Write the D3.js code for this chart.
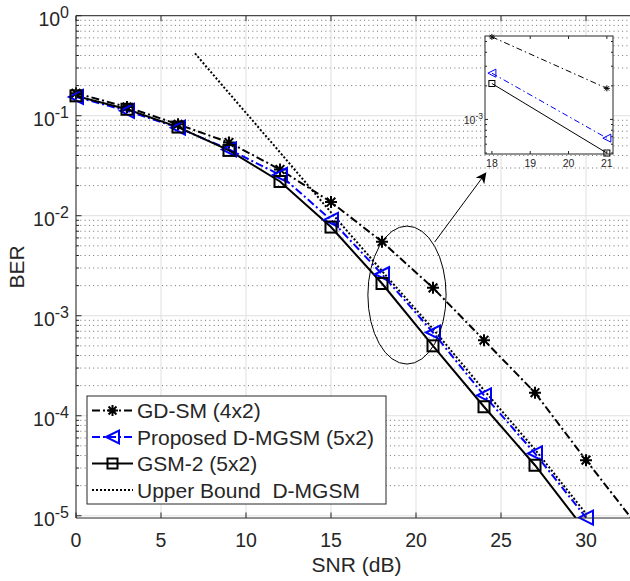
<!DOCTYPE html>
<html>
<head>
<meta charset="utf-8">
<script src="https://cdn.jsdelivr.net/npm/d3@7"></script>
<style>
  body { margin: 0; background: #fff; }
  text { font-family: Arial, "Liberation Sans", sans-serif; fill: #262626; }
</style>
</head>
<body>
<svg id="chart" width="630" height="581"></svg>
<script>
// data
const snr = [0, 3, 6, 9, 12, 15, 18, 21, 24, 27, 30];
const snrGdsm = [0, 3, 6, 9, 12, 15, 18, 21, 24, 27, 30, 33];
const berGdsm = [0.168, 0.122, 0.082, 0.054, 0.029, 0.0137, 0.0055, 0.0019, 0.00057, 0.00017, 0.000036, 0.000008];
const berProposed = [0.154, 0.112, 0.076, 0.046, 0.0256, 0.0091, 0.0026, 0.00068, 0.00016, 0.000042, 0.0000096];
const berGsm2 = [0.158, 0.116, 0.077, 0.045, 0.022, 0.0077, 0.0021, 0.0005, 0.000123, 0.000032, 0.000007];
const snrBound = [7, 9, 12, 15, 18, 21, 24, 27, 30];
const berBound = [0.42, 0.168, 0.043, 0.0108, 0.0028, 0.00074, 0.00018, 0.000046, 0.0000105];

const xTicks = [0, 5, 10, 15, 20, 25, 30];
const yExps = [-5, -4, -3, -2, -1, 0];
const insetXTicks = [18, 19, 20, 21];
const legendLabels = ["GD-SM (4x2)", "Proposed D-MGSM (5x2)", "GSM-2 (5x2)", "Upper Bound  D-MGSM"];

// ellipse / arrow annotation in data units
const ellipseC = [19.47, 0.00161];
const arrowFrom = [21.1, 0.00546];
const arrowTo = [24.1, 0.0267];

const svg = d3.select("#chart");
const pL = 76, pR = 637, pT = 15.7, pB = 518;
const x = d3.scaleLinear().domain([0, 33]).range([pL, pR]);
const y = d3.scaleLog().domain([9.5e-6, 1]).range([pB, pT]);

const series = [
  { xs: snrGdsm, ys: berGdsm, color: "#000", dash: "8,3,2,3", marker: "star", width: 2 },
  { xs: snr, ys: berProposed, color: "#0000ff", dash: "8,3,2,3", marker: "tri", width: 2 },
  { xs: snr, ys: berGsm2, color: "#000", dash: null, marker: "sq", width: 2 },
  { xs: snrBound, ys: berBound, color: "#000", dash: "2,2", marker: null, width: 2 }
];

function drawMarker(g, type, cx, cy, s, color, sw) {
  if (type == "star") {
    const h = s / 2, d = h * 0.72;
    const p = `M${cx - h},${cy}L${cx + h},${cy}M${cx},${cy - h}L${cx},${cy + h}` +
      `M${cx - d},${cy - d}L${cx + d},${cy + d}M${cx - d},${cy + d}L${cx + d},${cy - d}`;
    g.append("path").attr("d", p).attr("stroke", color).attr("stroke-width", sw).attr("fill", "none");
  } else if (type == "tri") {
    const h = s / 2;
    g.append("path").attr("d", `M${cx - h},${cy}L${cx + h},${cy - h}L${cx + h},${cy + h}Z`)
      .attr("stroke", color).attr("stroke-width", sw).attr("fill", "none");
  } else if (type == "sq") {
    const h = s / 2;
    g.append("rect").attr("x", cx - h).attr("y", cy - h).attr("width", s).attr("height", s)
      .attr("stroke", color).attr("stroke-width", sw).attr("fill", "none");
  }
}
const markerSize = { star: 12, tri: 14, sq: 11 };

svg.append("clipPath").attr("id", "plotClip").append("rect")
  .attr("x", pL).attr("y", pT).attr("width", pR - pL).attr("height", pB - pT);

// grid
const grid = svg.append("g");
const minorVals = [];
for (let e = -6; e <= -1; e++) for (let k = 2; k <= 9; k++) {
  const v = k * Math.pow(10, e);
  if (v > y.domain()[0] && v < 1) minorVals.push(v);
}
grid.selectAll(".minor").data(minorVals).enter().append("line")
  .attr("x1", pL).attr("x2", pR).attr("y1", d => y(d)).attr("y2", d => y(d))
  .attr("stroke", "#6e6e6e").attr("stroke-width", 1).attr("stroke-dasharray", "1,3.3");
grid.selectAll(".ymaj").data(yExps).enter().append("line")
  .attr("x1", pL).attr("x2", pR).attr("y1", d => y(Math.pow(10, d))).attr("y2", d => y(Math.pow(10, d)))
  .attr("stroke", "#dfdfdf").attr("stroke-width", 1);
grid.selectAll(".xmaj").data(xTicks).enter().append("line")
  .attr("x1", d => x(d)).attr("x2", d => x(d)).attr("y1", pT).attr("y2", pB)
  .attr("stroke", "#dfdfdf").attr("stroke-width", 1);

// curves
const plot = svg.append("g");
const lineGen = d3.line().x(d => x(d[0])).y(d => y(d[1]));
series.forEach(s => {
  const pts = s.xs.map((v, i) => [v, s.ys[i]]);
  plot.append("path").attr("d", lineGen(pts)).attr("clip-path", "url(#plotClip)")
    .attr("fill", "none").attr("stroke", s.color).attr("stroke-width", s.width)
    .attr("stroke-dasharray", s.dash);
});
series.forEach(s => {
  if (!s.marker) return;
  s.xs.forEach((v, i) => {
    if (v > x.domain()[1] || s.ys[i] < y.domain()[0] * 0.99) return;
    drawMarker(plot, s.marker, x(v), y(s.ys[i]), markerSize[s.marker], s.color, 2);
  });
});

// axes
const ax = svg.append("g").attr("stroke", "#262626").attr("stroke-width", 1);
ax.append("line").attr("x1", pL).attr("x2", pR).attr("y1", pB).attr("y2", pB);
ax.append("line").attr("x1", pL).attr("x2", pR).attr("y1", pT).attr("y2", pT);
ax.append("line").attr("x1", pL).attr("x2", pL).attr("y1", pT).attr("y2", pB);
xTicks.forEach(t => {
  ax.append("line").attr("x1", x(t)).attr("x2", x(t)).attr("y1", pB).attr("y2", pB - 5.5);
  ax.append("line").attr("x1", x(t)).attr("x2", x(t)).attr("y1", pT).attr("y2", pT + 5.5);
});
yExps.forEach(e => {
  ax.append("line").attr("x1", pL).attr("x2", pL + 5.5).attr("y1", y(Math.pow(10, e))).attr("y2", y(Math.pow(10, e)));
});
minorVals.forEach(v => {
  ax.append("line").attr("x1", pL).attr("x2", pL + 3).attr("y1", y(v)).attr("y2", y(v));
});

// tick labels
svg.selectAll(".xl").data(xTicks).enter().append("text")
  .attr("x", d => x(d)).attr("y", 547).attr("text-anchor", "middle")
  .attr("font-size", 19.5).text(d => d);
yExps.forEach(e => {
  const t = svg.append("text").attr("x", 69).attr("y", y(Math.pow(10, e)) + 10)
    .attr("text-anchor", "end").attr("font-size", 19.5);
  t.append("tspan").text("10");
  t.append("tspan").attr("dy", -8).attr("font-size", 16).text(e);
});

// axis titles
svg.append("text").attr("x", x(16.5)).attr("y", 572).attr("text-anchor", "middle")
  .attr("font-size", 21).text("SNR (dB)");
svg.append("text").attr("transform", "translate(24," + (pT + pB) / 2 + ") rotate(-90)")
  .attr("text-anchor", "middle").attr("font-size", 21).text("BER");

// legend
const lg = svg.append("g");
lg.append("rect").attr("x", 87).attr("y", 396).attr("width", 299).attr("height", 108)
  .attr("fill", "#fff").attr("stroke", "#262626").attr("stroke-width", 1);
legendLabels.forEach((lab, i) => {
  const s = series[i];
  const cy = 410.5 + i * 26.5;
  lg.append("line").attr("x1", 92).attr("x2", 133).attr("y1", cy).attr("y2", cy)
    .attr("stroke", s.color).attr("stroke-width", s.width).attr("stroke-dasharray", s.dash);
  if (s.marker) drawMarker(lg, s.marker, 112.5, cy, markerSize[s.marker] - 1, s.color, 2);
  lg.append("text").attr("x", 137).attr("y", cy + 7.5).attr("font-size", 21)
    .style("white-space", "pre").text(lab);
});

// ellipse + arrow
const ex = x(ellipseC[0]), ey = y(ellipseC[1]);
svg.append("ellipse").attr("cx", ex).attr("cy", ey)
  .attr("rx", x(ellipseC[0] + 2.3) - ex).attr("ry", 69)
  .attr("fill", "none").attr("stroke", "#000").attr("stroke-width", 1);
svg.append("defs").append("marker").attr("id", "ah").attr("viewBox", "0 0 10 10")
  .attr("refX", 9).attr("refY", 5).attr("markerWidth", 11).attr("markerHeight", 11)
  .attr("markerUnits", "userSpaceOnUse").attr("orient", "auto")
  .append("path").attr("d", "M0,0L10,5L0,10L3,5Z").attr("fill", "#000");
svg.append("line").attr("x1", x(arrowFrom[0])).attr("y1", y(arrowFrom[1]))
  .attr("x2", x(arrowTo[0])).attr("y2", y(arrowTo[1]))
  .attr("stroke", "#000").attr("stroke-width", 1).attr("marker-end", "url(#ah)");

// inset
const ix = d3.scaleLinear().domain([17.82, 21.16]).range([485, 613]);
const iy = d3.scaleLog().domain([4.9e-4, 5.6e-3]).range([154, 36]);
const ins = svg.append("g");
ins.append("rect").attr("x", 485).attr("y", 36).attr("width", 128).attr("height", 118)
  .attr("fill", "#fff").attr("stroke", "none");
const inLine = d3.line().x(d => ix(d[0])).y(d => iy(d[1]));
series.slice(0, 3).forEach(s => {
  const pts = s.xs.map((v, i) => [v, s.ys[i]]).filter(p => p[0] == 18 || p[0] == 21);
  ins.append("path").attr("d", inLine(pts)).attr("fill", "none").attr("stroke", s.color)
    .attr("stroke-width", 1).attr("stroke-dasharray", s.dash ? "6,3,1.5,3" : null);
  pts.forEach(p => drawMarker(ins, s.marker, ix(p[0]), iy(p[1]), s.marker == "tri" ? 8 : 6, s.color, 1));
});
const ib = ins.append("g").attr("stroke", "#262626").attr("stroke-width", 1);
ib.append("rect").attr("x", 485).attr("y", 36).attr("width", 128).attr("height", 118).attr("fill", "none");
insetXTicks.forEach(t => {
  ib.append("line").attr("x1", ix(t)).attr("x2", ix(t)).attr("y1", 154).attr("y2", 151);
  ib.append("line").attr("x1", ix(t)).attr("x2", ix(t)).attr("y1", 36).attr("y2", 39);
});
[0.001].concat([5e-4, 6e-4, 7e-4, 8e-4, 9e-4, 2e-3, 3e-3, 4e-3, 5e-3]).forEach((v, i) => {
  const len = i == 0 ? 3 : 2;
  ib.append("line").attr("x1", 485).attr("x2", 485 + len).attr("y1", iy(v)).attr("y2", iy(v));
  ib.append("line").attr("x1", 613).attr("x2", 613 - len).attr("y1", iy(v)).attr("y2", iy(v));
});
ins.selectAll(".ixl").data(insetXTicks).enter().append("text")
  .attr("x", d => ix(d)).attr("y", 167).attr("text-anchor", "middle")
  .attr("font-size", 10.5).attr("fill", "#404040").text(d => d);
const il = ins.append("text").attr("x", 483).attr("y", iy(0.001) + 5).attr("text-anchor", "end")
  .attr("font-size", 10.5).attr("fill", "#404040");
il.append("tspan").text("10");
il.append("tspan").attr("dy", -5).attr("font-size", 8.5).text("-3");
</script>
</body>
</html>
